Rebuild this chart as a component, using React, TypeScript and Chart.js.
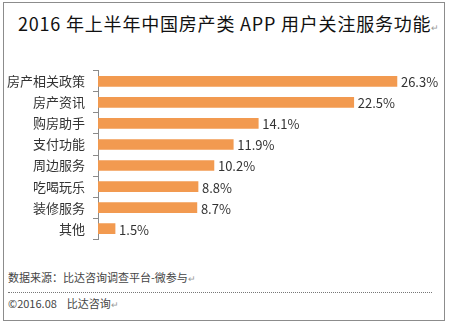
import React, { useEffect, useRef } from "react";
import { Chart, registerables } from "chart.js";

Chart.register(...registerables);

const categories = ["房产相关政策", "房产资讯", "购房助手", "支付功能", "周边服务", "吃喝玩乐", "装修服务", "其他"];
const values = [26.3, 22.5, 14.1, 11.9, 10.2, 8.8, 8.7, 1.5];
const valueLabels = ["26.3%", "22.5%", "14.1%", "11.9%", "10.2%", "8.8%", "8.7%", "1.5%"];

const titleText = "2016 年上半年中国房产类 APP 用户关注服务功能";
const sourceText = "数据来源：比达咨询调查平台-微参与";
const copyrightText = "©2016.08    比达咨询";

const FONT = '"Noto Sans CJK SC", "Noto Sans", sans-serif';
const BAR_COLOR = "#F29A50";

const labelPlugin = {
  id: "valueLabels",
  afterDatasetsDraw(chart: any) {
    const ctx = chart.ctx;
    const meta = chart.getDatasetMeta(0);
    ctx.save();
    ctx.font = `13px ${FONT}`;
    ctx.fillStyle = "#333";
    ctx.textAlign = "left";
    ctx.textBaseline = "middle";
    meta.data.forEach((el: any, i: number) => {
      ctx.fillText(valueLabels[i], el.x + 4, el.y + 1);
    });
    ctx.restore();
  },
};

export default function App() {
  const ref = useRef<HTMLCanvasElement | null>(null);
  useEffect(() => {
    if (!ref.current) return;
    const chart = new Chart(ref.current, {
      type: "bar",
      data: {
        labels: categories,
        datasets: [
          {
            data: values,
            backgroundColor: BAR_COLOR,
            barThickness: 10,
          },
        ],
      },
      options: {
        indexAxis: "y",
        animation: false,
        responsive: false,
        layout: { padding: { left: 0, right: 11, top: 7, bottom: 7 } },
        plugins: {
          legend: { display: false },
          tooltip: { enabled: false },
          title: { display: false },
        },
        scales: {
          x: { display: false, min: 0, max: 30 },
          y: {
            afterFit: (s: any) => {
              s.width = 98;
            },
            border: { display: true, color: "#8a8a8a", width: 1 },
            grid: {
              offset: true,
              drawOnChartArea: false,
              drawTicks: true,
              tickLength: 5,
              color: "#8a8a8a",
            },
            ticks: {
              padding: 8,
              color: "#333",
              font: { family: FONT, size: 13 },
            },
          },
        },
      },
      plugins: [labelPlugin],
    });
    return () => chart.destroy();
  }, []);

  const mark = <span style={{ fontSize: 9, color: "#999", letterSpacing: 0 }}>↵</span>;

  return (
    <div
      style={{
        position: "absolute",
        left: 0,
        top: 0,
        width: 450,
        height: 326,
        background: "#fff",
        overflow: "hidden",
        fontFamily: FONT,
      }}
    >
      <div
        style={{
          position: "absolute",
          left: 3,
          top: 2,
          width: 442,
          height: 319,
          border: "1px solid #8c8c8c",
          boxSizing: "border-box",
        }}
      />
      <div
        style={{
          position: "absolute",
          left: 18,
          top: 11,
          fontSize: 18,
          lineHeight: "24px",
          color: "#111",
          whiteSpace: "nowrap",
          letterSpacing: "0.8px",
        }}
      >
        {titleText}
        {mark}
      </div>
      <canvas
        ref={ref}
        width={450}
        height={200}
        style={{ position: "absolute", left: 0, top: 55, width: 450, height: 200 }}
      />
      <div
        style={{
          position: "absolute",
          left: 8,
          top: 269,
          fontSize: 11,
          lineHeight: "16px",
          color: "#444",
          whiteSpace: "nowrap",
        }}
      >
        {sourceText}
        {mark}
      </div>
      <div
        style={{
          position: "absolute",
          left: 8,
          top: 292,
          width: 424,
          borderTop: "1px dotted #777",
        }}
      />
      <div
        style={{
          position: "absolute",
          left: 8,
          top: 295,
          fontSize: 11,
          lineHeight: "16px",
          color: "#444",
          whiteSpace: "pre",
        }}
      >
        {copyrightText}
        {mark}
      </div>
    </div>
  );
}
